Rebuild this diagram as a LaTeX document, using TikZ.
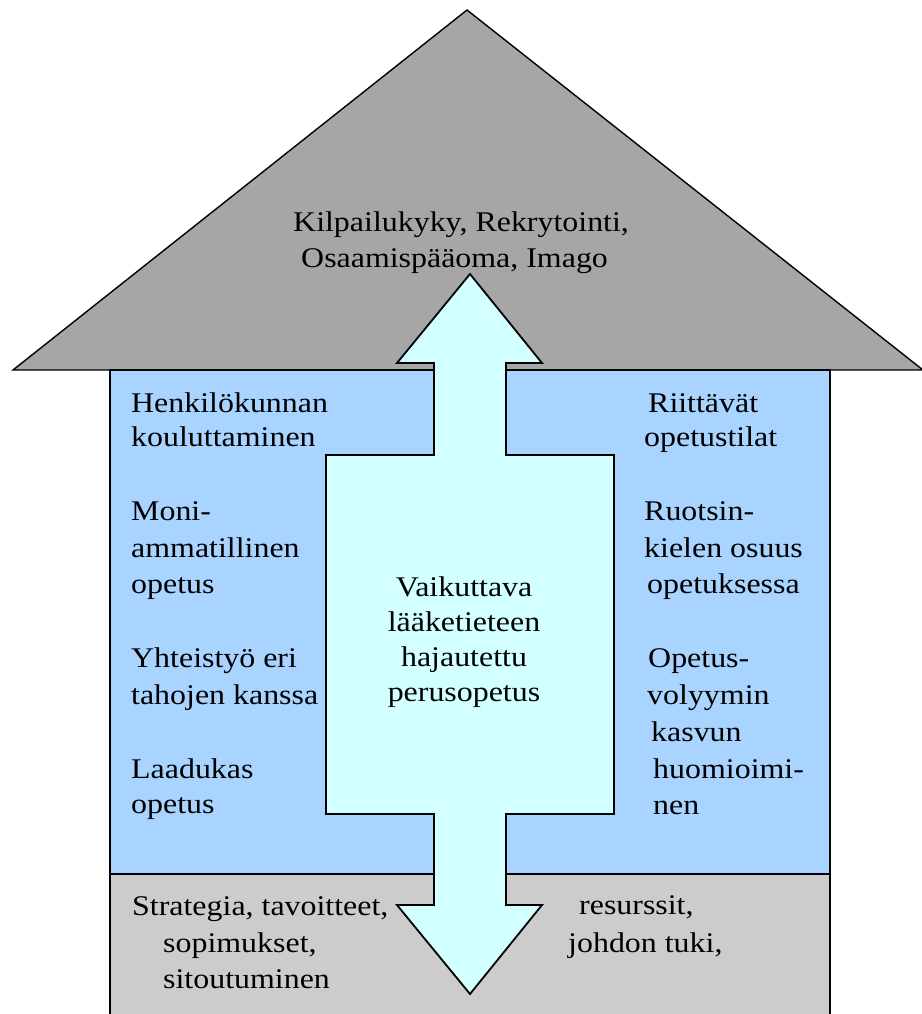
\documentclass[tikz,border=0pt]{standalone}
\usepackage{fontspec}
\setmainfont{Liberation Serif}[FakeStretch=1.12]
\definecolor{roofgray}{HTML}{A6A6A6}
\definecolor{basegray}{HTML}{CCCCCC}
\definecolor{wallblue}{HTML}{A8D4FF}
\definecolor{arrowcyan}{HTML}{D2FFFF}
\tikzset{
  outline/.style={draw=black, line width=1.8pt, line join=miter},
  lbl/.style={anchor=base west, inner sep=0pt, font=\fontsize{28.5}{36}\selectfont},
  clbl/.style={anchor=base, inner sep=0pt, font=\fontsize{28.5}{36}\selectfont},
}
\begin{document}
\begin{tikzpicture}[x=1pt,y=-1pt]
\useasboundingbox (0,0) rectangle (921,1014);
% roof
\draw[outline, line width=1.4pt, fill=roofgray] (13,370) -- (467,10) -- (923,370) -- cycle;
% walls and foundation
\draw[outline, fill=wallblue] (110,370) rectangle (830,874);
\draw[outline, fill=basegray] (110,874) rectangle (830,1030);
% double-headed arrow through the house
\draw[outline, fill=arrowcyan]
  (470,274) -- (542,363) -- (506,363) -- (506,455) -- (614,455) -- (614,814)
  -- (506,814) -- (506,905) -- (542,905) -- (470,994) -- (397,905) -- (434,905)
  -- (434,814) -- (326,814) -- (326,455) -- (434,455) -- (434,363) -- (397,363) -- cycle;
% roof text
\node[lbl] (r1) at (293,231) {Kilpailukyky, Rekrytointi,};
\node[lbl] (r2) at (301,267) {Osaamispääoma, Imago};
% left column
\node[lbl] (l1) at (131,412) {Henkilökunnan};
\node[lbl] (l2) at (131,446) {kouluttaminen};
\node[lbl] (l3) at (131,520) {Moni-};
\node[lbl] (l4) at (131,557) {ammatillinen};
\node[lbl] (l5) at (131,593) {opetus};
\node[lbl] (l6) at (131,667) {Yhteistyö eri};
\node[lbl] (l7) at (131,704) {tahojen kanssa};
\node[lbl] (l8) at (131,778) {Laadukas};
\node[lbl] (l9) at (131,813) {opetus};
% right column
\node[lbl] (q1) at (648,412) {Riittävät};
\node[lbl] (q2) at (644,446) {opetustilat};
\node[lbl] (q3) at (644,520) {Ruotsin-};
\node[lbl] (q4) at (644,557) {kielen osuus};
\node[lbl] (q5) at (647,593) {opetuksessa};
\node[lbl] (q6) at (648,667) {Opetus-};
\node[lbl] (q7) at (647,704) {volyymin};
\node[lbl] (q8) at (651,741) {kasvun};
\node[lbl] (q9) at (653,778) {huomioimi-};
\node[lbl] (q10) at (653,814) {nen};
% centre text
\node[clbl] (c1) at (464,596) {Vaikuttava};
\node[clbl] (c2) at (464,631) {lääketieteen};
\node[clbl] (c3) at (464,666) {hajautettu};
\node[clbl] (c4) at (464,701) {perusopetus};
% foundation text
\node[lbl] (b1) at (132,915) {Strategia, tavoitteet,};
\node[lbl] (b2) at (163,952) {sopimukset,};
\node[lbl] (b3) at (163,988) {sitoutuminen};
\node[lbl] (b4) at (579,914) {resurssit,};
\node[lbl] (b5) at (568,952) {johdon tuki,};
\end{tikzpicture}
\end{document}
